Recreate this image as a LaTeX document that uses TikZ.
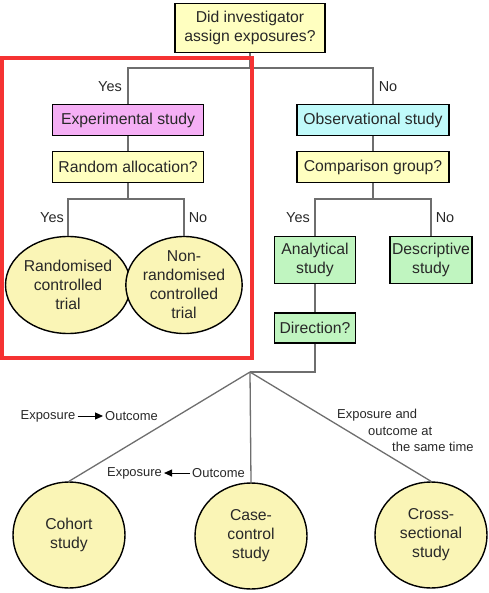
\documentclass[tikz,border=0pt]{standalone}
\usepackage{fontspec}
\setmainfont{Liberation Sans}
\usepackage{tikz}
\usetikzlibrary{arrows.meta,positioning,shapes.geometric}
\usepackage{xcolor}
\definecolor{boxyellow}{RGB}{255,255,192}
\definecolor{circyellow}{RGB}{250,245,182}
\definecolor{boxpink}{RGB}{245,175,245}
\definecolor{boxcyan}{RGB}{192,250,250}
\definecolor{boxgreen}{RGB}{192,245,192}
\definecolor{linegrey}{RGB}{110,110,110}
\definecolor{txtgrey}{RGB}{40,40,40}
\definecolor{markred}{RGB}{245,50,50}

\begin{document}
\begin{tikzpicture}[x=1bp,y=-1bp,
    box/.style={draw=black,line width=1.4bp,minimum height=31bp,inner sep=2bp,align=center,
        text=txtgrey,font=\fontsize{15.8}{18.5}\selectfont},
    circ/.style={ellipse,draw=black,line width=1.4bp,fill=circyellow,inner sep=0pt,align=center,
        text=txtgrey,font=\fontsize{15.8}{19}\selectfont},
    lbl/.style={text=txtgrey,font=\fontsize{14.5}{16}\selectfont,inner sep=0pt},
    small/.style={text=txtgrey,font=\fontsize{13}{16.5}\selectfont,inner sep=0pt},
    conn/.style={linegrey,line width=1.3bp},
    tip/.style={-{Triangle[length=8bp,width=7bp]},black,line width=1bp,shorten <=2bp,shorten >=2bp}
]
\useasboundingbox (0,0) rectangle (489,593);
% question boxes
\node[box,fill=boxyellow,minimum width=150bp,minimum height=49bp] (assign) at (250,28) {Did investigator\\assign exposures?};
\node[box,fill=boxpink,minimum width=151bp] (expt) at (128,120) {Experimental study};
\node[box,fill=boxyellow,minimum width=151bp] (rand) at (128,167) {Random allocation?};
\node[box,fill=boxcyan,minimum width=152bp] (obs) at (373,120) {Observational study};
\node[box,fill=boxyellow,minimum width=152bp] (comp) at (373,167) {Comparison group?};
\node[box,fill=boxgreen,minimum width=81bp,minimum height=47bp] (anal) at (315,260) {Analytical\\study};
\node[box,fill=boxgreen,minimum width=80bp,minimum height=47bp] (desc) at (431,260) {Descriptive\\study};
\node[box,fill=boxgreen,minimum width=81bp,minimum height=30bp] (dirn) at (315,328) {Direction?};
% study designs
\node[circ,minimum width=107bp,minimum height=97bp] (rct) at (68,285) {Randomised\\controlled\\trial};
\node[circ,minimum width=107bp,minimum height=97bp] (nrct) at (184,285) {Non-\\randomised\\controlled\\trial};
\node[circ,minimum width=112bp,minimum height=106bp] (cohort) at (69,535) {Cohort\\study};
\node[circ,minimum width=112bp,minimum height=106bp] (cc) at (251,536) {Case-\\control\\study};
\node[circ,minimum width=112bp,minimum height=106bp] (cross) at (431,535) {Cross-\\sectional\\study};
% junctions
\coordinate (j1) at (250,68);
\coordinate (j2) at (128,199);
\coordinate (j3) at (373,199);
\coordinate (j4) at (250,372);
% connectors
\draw[conn] (assign) -- (j1);
\draw[conn] (expt.north) |- (j1) -| (obs.north);
\draw[conn] (expt) -- (rand);
\draw[conn] (rand) -- (j2);
\draw[conn] (rct.north) |- (j2) -| (nrct.north);
\draw[conn] (obs) -- (comp);
\draw[conn] (comp) -- (j3);
\draw[conn] (anal.north) |- (j3) -| (desc.north);
\draw[conn] (anal) -- (dirn);
\draw[conn] (dirn.south) |- (j4);
\draw[conn] (j4) -- (cohort.north);
\draw[conn] (j4) -- (cc.north);
\draw[conn] (j4) -- (cross.north);
% branch labels
\node[lbl] (y1) at (110,87) {Yes};
\node[lbl] (n1) at (388,87) {No};
\node[lbl] (y2) at (52,218) {Yes};
\node[lbl] (n2) at (198,218) {No};
\node[lbl] (y3) at (298,218) {Yes};
\node[lbl] (n3) at (445,218) {No};
\node[small] (expA) at (48,416) {Exposure};
\node[small] (outA) at (131.5,416) {Outcome};
\draw[tip] (expA) -- (outA);
\node[small] (expB) at (134.5,473) {Exposure};
\node[small] (outB) at (218.5,473) {Outcome};
\draw[tip] (outB) -- (expB);
\node[small,align=left,anchor=north west] (same) at (337,409)
    {Exposure and\\\hspace*{31bp}outcome at\\\hspace*{55bp}the same time};
% highlight
\draw[markred,line width=4bp] (2,58) rectangle (252,358);
\end{tikzpicture}
\end{document}
